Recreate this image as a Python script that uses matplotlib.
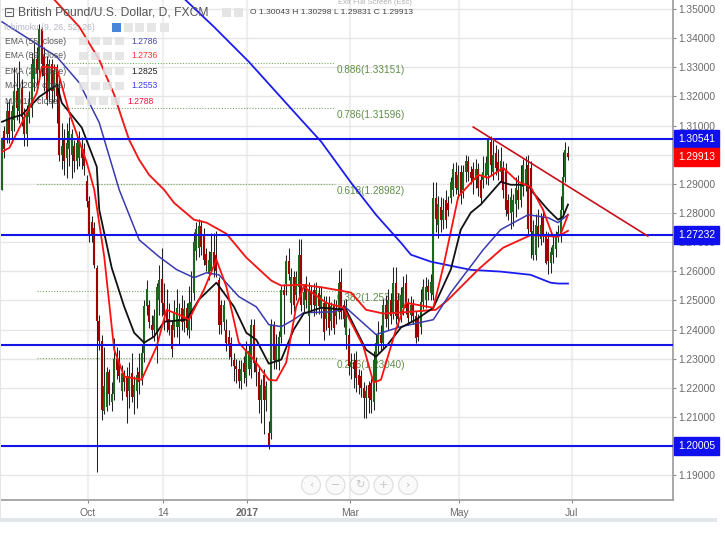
import matplotlib
matplotlib.use("Agg")
import matplotlib.pyplot as plt
from matplotlib.patches import Rectangle, Circle

# candles, one per trading day
opens = [1.288,1.308,1.307,1.315,1.308,1.312,1.322,1.315,1.323,1.313,1.307,1.313,1.316,1.326,1.333,1.329,1.343,1.334,1.331,1.322,
1.331,1.322,1.329,1.323,1.300,1.305,1.299,1.302,1.300,1.303,1.298,1.299,1.303,1.302,1.291,1.284,1.277,1.275,1.261,1.243,
1.236,1.212,1.2135,1.2255,1.215,1.218,1.23,1.229,1.219,1.225,1.224,1.219,1.225,1.217,1.219,1.2255,1.2235,1.232,1.248,1.2485,
1.2415,1.24,1.2385,1.25,1.2575,1.249,1.246,1.2435,1.2415,1.24,1.241,1.241,1.2475,1.2425,1.2475,1.24,1.245,1.2525,1.267,1.268,
1.2755,1.272,1.266,1.259,1.26,1.2665,1.2655,1.257,1.2485,1.2425,1.24,1.2375,1.2355,1.2295,1.2275,1.2265,1.2225,1.2285,1.2235,1.2265,
1.2265,1.2415,1.2285,1.2255,1.216,1.2245,1.216,1.2045,1.2045,1.2415,1.229,1.229,1.2375,1.2535,1.2555,1.2635,1.249,1.258,1.252,1.2545,
1.2655,1.2485,1.2555,1.2445,1.253,1.2535,1.248,1.2525,1.247,1.249,1.2435,1.249,1.243,1.2485,1.2445,1.246,1.2565,1.2485,1.238,1.238,
1.227,1.229,1.2295,1.2245,1.224,1.22,1.2165,1.221,1.2215,1.215,1.222,1.235,1.238,1.2355,1.2485,1.2435,1.25,1.246,1.256,1.25,
1.245,1.2475,1.256,1.249,1.245,1.2485,1.2445,1.2435,1.241,1.2495,1.25,1.255,1.2525,1.252,1.285,1.276,1.282,1.2775,1.2845,1.2835,
1.285,1.288,1.294,1.288,1.294,1.288,1.294,1.298,1.294,1.295,1.2915,1.295,1.2915,1.2915,1.292,1.293,1.3045,1.294,1.3005,1.2975,
1.294,1.2955,1.295,1.2845,1.28,1.2805,1.283,1.288,1.2845,1.289,1.29,1.2965,1.2955,1.2655,1.2655,1.2755,1.271,1.2785,1.2725,1.271,
1.263,1.2655,1.2675,1.272,1.272,1.281,1.2925,1.30043]
highs = [1.306,1.310,1.318,1.319,1.317,1.330,1.328,1.332,1.326,1.316,1.317,1.322,1.335,1.339,1.337,1.345,1.344,1.337,1.334,1.333,
1.333,1.331,1.331,1.326,1.311,1.309,1.311,1.313,1.309,1.305,1.306,1.308,1.306,1.304,1.293,1.286,1.279,1.277,1.262,1.245,
1.238,1.234,1.227,1.2265,1.222,1.237,1.234,1.233,1.228,1.226,1.227,1.229,1.232,1.224,1.227,1.232,1.235,1.25,1.257,1.25,
1.245,1.247,1.256,1.262,1.268,1.256,1.254,1.249,1.243,1.25,1.254,1.249,1.252,1.25,1.249,1.255,1.26,1.2735,1.277,1.278,
1.2775,1.275,1.268,1.267,1.273,1.273,1.274,1.258,1.25,1.25,1.2435,1.24,1.2375,1.232,1.23,1.2295,1.2295,1.231,1.236,1.235,
1.2435,1.2435,1.2305,1.2275,1.223,1.2265,1.2225,1.2085,1.2435,1.243,1.2385,1.2395,1.255,1.2555,1.2655,1.268,1.261,1.26,1.26,1.271,
1.271,1.2555,1.2585,1.2565,1.255,1.256,1.2565,1.2545,1.255,1.2515,1.2515,1.2515,1.2495,1.2505,1.25,1.2605,1.261,1.25,1.2505,1.2405,
1.232,1.232,1.2325,1.2265,1.226,1.222,1.221,1.2225,1.2235,1.2325,1.2385,1.243,1.2415,1.2505,1.252,1.254,1.2525,1.2615,1.2615,1.2525,
1.2545,1.2585,1.259,1.251,1.2515,1.2505,1.2465,1.2455,1.254,1.2575,1.258,1.2575,1.259,1.2905,1.2905,1.286,1.2855,1.285,1.288,1.286,
1.2925,1.297,1.2975,1.2965,1.2965,1.2965,1.3,1.2995,1.296,1.2975,1.2985,1.297,1.2935,1.2995,1.2995,1.3055,1.3065,1.305,1.3035,1.302,
1.3025,1.298,1.297,1.2865,1.2885,1.2865,1.2925,1.293,1.2965,1.2985,1.2995,1.3,1.298,1.2775,1.2795,1.2815,1.28,1.2815,1.274,1.2735,
1.2685,1.272,1.274,1.276,1.286,1.301,1.3045,1.30298]
lows = [1.288,1.299,1.304,1.304,1.304,1.308,1.312,1.311,1.310,1.303,1.303,1.311,1.313,1.322,1.324,1.325,1.327,1.322,1.317,1.318,
1.316,1.318,1.311,1.298,1.295,1.293,1.292,1.296,1.292,1.294,1.295,1.296,1.295,1.293,1.282,1.270,1.270,1.261,1.191,1.233,
1.209,1.211,1.212,1.214,1.212,1.216,1.223,1.222,1.216,1.219,1.208,1.213,1.215,1.211,1.213,1.218,1.221,1.229,1.245,1.2405,
1.2375,1.236,1.2285,1.245,1.2445,1.24,1.239,1.238,1.2305,1.2375,1.2375,1.235,1.24,1.239,1.238,1.237,1.24,1.25,1.264,1.265,
1.2655,1.262,1.26,1.257,1.259,1.258,1.258,1.2385,1.2385,1.24,1.2325,1.23,1.2275,1.2225,1.2215,1.22,1.2195,1.2215,1.2205,1.2245,
1.2235,1.2255,1.2205,1.2115,1.208,1.204,1.212,1.199,1.2025,1.2265,1.2265,1.226,1.2355,1.2385,1.252,1.257,1.2455,1.2465,1.25,1.2515,
1.2465,1.246,1.2475,1.235,1.2465,1.2445,1.2455,1.2455,1.244,1.2365,1.24,1.238,1.24,1.2385,1.242,1.2435,1.2435,1.241,1.2335,1.2245,
1.223,1.22,1.2185,1.218,1.217,1.2095,1.2095,1.2115,1.2115,1.2125,1.219,1.232,1.233,1.2335,1.241,1.24,1.242,1.2435,1.242,1.241,
1.2425,1.245,1.2455,1.2415,1.2425,1.242,1.2355,1.236,1.2385,1.247,1.2475,1.25,1.25,1.25,1.2735,1.2715,1.2735,1.2745,1.275,1.279,
1.2835,1.286,1.2865,1.285,1.283,1.285,1.2905,1.291,1.29,1.2865,1.2885,1.286,1.283,1.2885,1.29,1.2895,1.293,1.2915,1.293,1.2915,
1.291,1.285,1.279,1.2775,1.2745,1.2755,1.2785,1.2815,1.282,1.286,1.2875,1.2725,1.2645,1.264,1.264,1.2685,1.269,1.27,1.2625,1.259,
1.2595,1.263,1.265,1.27,1.27,1.279,1.2905,1.29831]
closes = [1.305,1.302,1.315,1.307,1.315,1.322,1.316,1.323,1.313,1.307,1.314,1.318,1.331,1.333,1.328,1.343,1.331,1.327,1.319,1.331,
1.322,1.329,1.320,1.300,1.303,1.298,1.304,1.308,1.307,1.298,1.304,1.305,1.299,1.296,1.284,1.2725,1.272,1.262,1.243,1.236,
1.2125,1.2205,1.2255,1.218,1.218,1.23,1.226,1.224,1.225,1.222,1.217,1.224,1.217,1.221,1.2245,1.222,1.232,1.248,1.254,1.2425,
1.24,1.2445,1.2545,1.257,1.249,1.245,1.2425,1.24,1.2335,1.246,1.2475,1.2435,1.2425,1.247,1.2405,1.249,1.2495,1.27,1.2745,1.2755,
1.2685,1.264,1.262,1.264,1.2665,1.261,1.26,1.2415,1.2415,1.2485,1.2355,1.2345,1.2305,1.2275,1.2265,1.2225,1.2265,1.2255,1.233,1.2325,
1.2415,1.2285,1.2255,1.216,1.221,1.216,1.2205,1.2005,1.2415,1.2295,1.2345,1.2375,1.2535,1.252,1.2635,1.259,1.258,1.2485,1.258,1.2655,
1.2485,1.2530,1.25,1.2535,1.2485,1.2485,1.2535,1.248,1.252,1.239,1.249,1.2405,1.248,1.2405,1.2475,1.256,1.246,1.2435,1.248,1.2275,
1.229,1.2265,1.2235,1.221,1.22,1.2165,1.219,1.2165,1.216,1.2295,1.2355,1.238,1.2355,1.2485,1.2435,1.25,1.2445,1.256,1.2445,1.2435,
1.252,1.2545,1.2475,1.244,1.2485,1.2445,1.237,1.2375,1.2495,1.2545,1.2545,1.253,1.2565,1.285,1.278,1.283,1.2775,1.281,1.2775,1.281,
1.2905,1.295,1.2885,1.293,1.287,1.294,1.298,1.294,1.292,1.2915,1.295,1.2885,1.285,1.294,1.297,1.305,1.2965,1.3,1.2955,1.294,
1.298,1.288,1.281,1.2795,1.2855,1.2845,1.2885,1.2845,1.29,1.2965,1.295,1.2745,1.2735,1.274,1.276,1.272,1.276,1.2725,1.263,1.2635,
1.2665,1.269,1.272,1.2735,1.281,1.2925,1.3015,1.29913]

# moving averages, read at a few bars each
ma200_bars = [71,85,99,120,128,140,150,160,164,172,180,188,200,212,220,223,227]
ma200_vals = [1.3552,1.3439,1.3319,1.3120,1.3045,1.2904,1.2794,1.2698,1.2657,1.2633,1.2619,1.2605,1.2599,1.2588,1.2561,1.2558,1.2558]
ema89_bars = [21,31,39,45,48,51,55,59,65,69,77,82,90,98,108,112,120,129,140,146,153,164,174,179,191,201,212,223,227]
ema89_vals = [1.3532,1.3439,1.3326,1.3206,1.3127,1.3051,1.2983,1.2931,1.2880,1.2835,1.2777,1.2767,1.2729,1.2647,1.2568,1.2551,1.2554,1.2544,1.2527,1.2468,1.2455,1.2461,1.2468,1.2503,1.2606,1.2681,1.2724,1.2719,1.2739]
ema55_bars = [0,7,22,31,39,47,55,63,70,77,82,87,95,102,107,112,117,121,133,138,150,160,173,180,193,200,211,219,223,227]
ema55_vals = [1.3456,1.3418,1.3336,1.3247,1.3110,1.2880,1.2708,1.2650,1.2606,1.2578,1.2595,1.2588,1.2513,1.2478,1.2417,1.2410,1.2434,1.2458,1.2461,1.2475,1.2383,1.2410,1.2434,1.2527,1.2674,1.2743,1.2794,1.2784,1.2767,1.2794]
ema21_bars = [0,4,8,15,22,24,32,38,39,44,49,53,57,61,65,74,79,86,93,98,102,107,112,117,121,128,138,146,150,154,160,166,173,180,184,188,192,200,204,211,213,219,223,225,227]
ema21_vals = [1.3113,1.3127,1.3137,1.3199,1.3240,1.3178,1.3093,1.2959,1.2811,1.2612,1.2479,1.2389,1.2355,1.2376,1.2427,1.2434,1.2503,1.2561,1.2479,1.2389,1.2365,1.2283,1.2297,1.2400,1.2455,1.2475,1.2468,1.2331,1.2307,1.2341,1.2407,1.2434,1.2475,1.2606,1.2743,1.2801,1.2829,1.2907,1.2897,1.2897,1.2870,1.2811,1.2777,1.2787,1.2829]
ma10_bars = [0,3,8,14,16,22,27,34,37,41,45,49,56,62,66,71,75,81,86,90,95,101,107,110,114,118,121,130,137,145,149,152,158,162,173,177,183,191,195,201,207,212,217,221,224,227]
ma10_vals = [1.3010,1.3024,1.3110,1.3213,1.3302,1.3298,1.3144,1.2973,1.2880,1.2650,1.2331,1.2239,1.2228,1.2341,1.2468,1.2451,1.2434,1.2537,1.2640,1.2547,1.2355,1.2297,1.2228,1.2225,1.2287,1.2479,1.2547,1.2492,1.2475,1.2341,1.2218,1.2228,1.2400,1.2492,1.2475,1.2616,1.2856,1.2931,1.2921,1.2955,1.2907,1.2890,1.2811,1.2719,1.2726,1.2794]

support_levels = [1.30541,1.27232,1.2347,1.20005]
tag_levels = [1.30541,1.29913,1.27232,1.20005]
tag_colors = ["#1010ee","#ff0000","#1010ee","#1010ee"]
trend_bars = [189,259]
trend_vals = [1.3095,1.2721]

fib_names = ["0.886","0.786","0.618","0.382","0.236"]
fib_vals = [1.33151,1.31596,1.28982,1.25319,1.23040]
fib_start = [24.5,24.5,14,14,14]

price_ticks = [1.19,1.20,1.21,1.22,1.23,1.24,1.25,1.26,1.27,1.28,1.29,1.30,1.31,1.32,1.33,1.34,1.35]
date_ticks = [34.5,64.5,98.4,139.6,183.3,228.6]
date_labels = ["Oct","14","2017","Mar","May","Jul"]

legend_rows = ["EMA (55, close)","EMA (89, close)","EMA (21, close)","MA (200, close)","MA (10, close)"]
legend_vals = ["1.2786","1.2736","1.2825","1.2553","1.2788"]
legend_cols = ["#4a4ab0","#ff3030","#222222","#3a3af0","#ff1040"]

plt.rcParams["font.family"] = ["Liberation Sans","DejaVu Sans"]

fig = plt.figure(figsize=(7.25,5.43),dpi=100)
W,H = 725,543
ax = fig.add_axes([1/W,1-500/H,671.7/W,500/H])
ax.set_xlim(-0.4,269)
ax.set_ylim(1.18152,1.35310)

ax.set_yticks(price_ticks)
#1.20 and 1.30 sit fully behind the tags
ax.set_yticklabels(["" if p in (1.20,1.30) else "%.5f"%p for p in price_ticks],fontsize=7.4,color="#6a6a6a")
ax.yaxis.tick_right()
ax.tick_params(axis="y",length=2.5,width=0.8,color="#888888",pad=1.5)
ax.set_xticks(date_ticks)
ax.set_xticklabels(date_labels,fontsize=7.5,color="#6a6a6a")
ax.get_xticklabels()[2].set_fontweight("bold")
ax.tick_params(axis="x",length=2.5,width=0.8,color="#888888",pad=3.5)
ax.grid(axis="y",color="#e6e6e6",lw=1.0,zorder=0)
ax.grid(axis="x",color="#efefef",lw=1.6,zorder=0)
ax.set_axisbelow(True)
for s in ["top","left"]:
    ax.spines[s].set_visible(False)
for s in ["right","bottom"]:
    ax.spines[s].set_color("#9a9a9a")
    ax.spines[s].set_linewidth(1.2)

#fib levels, under the candles
for n,v,st in zip(fib_names,fib_vals,fib_start):
    ax.plot([st,133.5],[v,v],color="#7da860",lw=0.8,ls=(0,(1,1.5)),zorder=1)
    ax.annotate("%s(%.5f)"%(n,v),(134.4,v),xytext=(0,-1.5),textcoords="offset points",
                fontsize=7.2,color="#5d8f45",va="top",zorder=1)

#candles
for i in range(len(opens)):
    up = closes[i] >= opens[i]
    c = "#1c651c" if up else "#a30000"
    ax.plot([i,i],[lows[i],highs[i]],color="#222222",lw=0.75,zorder=2,solid_capstyle="butt")
    ax.plot([i,i],[opens[i],closes[i]],color=c,lw=1.5,zorder=3,solid_capstyle="butt")

ax.plot(ma200_bars,ma200_vals,color="#1c1cf0",lw=1.3,zorder=4)
ax.plot(ema89_bars,ema89_vals,color="#f01818",lw=1.35,zorder=4)
ax.plot(ema55_bars,ema55_vals,color="#3a3ab0",lw=1.1,zorder=4)
ax.plot(ema21_bars,ema21_vals,color="#111111",lw=1.3,zorder=5)
ax.plot(ma10_bars,ma10_vals,color="#ff1010",lw=1.3,zorder=5)

for lv in support_levels:
    ax.axhline(lv,color="#1414e6",lw=1.5,zorder=6)
ax.plot(trend_bars,trend_vals,color="#c8101c",lw=1.2,zorder=6)

#price tags on the axis
tr = ax.get_yaxis_transform()
for v,col in zip(tag_levels,tag_colors):
    ax.text(1.0083,v,"%.5f"%v,transform=tr,fontsize=7.4,color="white",va="center",ha="left",
            bbox=dict(facecolor=col,edgecolor=col,boxstyle="square,pad=0.38"),zorder=10,clip_on=False)

#everything else sits in an overlay in pixel coordinates
ov = fig.add_axes([0,0,1,1],zorder=20)
ov.set_xlim(0,W)
ov.set_ylim(H,0)
ov.axis("off")
ov.add_patch(Rectangle((0,518),717,3.5,fc="#e3e6e9",ec="none"))
ov.add_patch(Rectangle((0,0),1.3,521,fc="#e3e6e9",ec="none"))

ov.add_patch(Rectangle((5.5,8),8,8,fc="none",ec="#666666",lw=0.8))
ov.plot([7.5,11.5],[12,12],color="#666666",lw=0.8)
ov.text(18,12.5,"British Pound/U.S. Dollar, D, FXCM",fontsize=8.7,color="#555555",va="center")
ov.add_patch(Rectangle((222,8),9,8.5,fc="#e4e4e4",ec="none"))
ov.add_patch(Rectangle((234,8),9,8.5,fc="#e4e4e4",ec="none"))
ov.text(250,12.5,"O 1.30043 H 1.30298 L 1.29831 C 1.29913",fontsize=6.1,color="#444444",va="center")
ov.text(375,3,"Exit Full Screen (Esc)",fontsize=5.5,color="#b0b0b0",va="center",ha="center")

ov.text(4,27,"Ichimoku (9, 26, 52, 26)",fontsize=6.2,color="#b5b5c5",va="center")
ov.add_patch(Rectangle((112,23),9,8.5,fc="#4a86d8",ec="none"))
for bx in [124,135,147,160]:
    ov.add_patch(Rectangle((bx,23),9,8.5,fc="#e6e6e6",ec="none"))
for k,(t,v,col) in enumerate(zip(legend_rows,legend_vals,legend_cols)):
    y = 41+k*15
    ov.text(5,y,t,fontsize=6.2,color="#555555",va="center")
    shift = 4 if k==4 else 0
    for bx in [79,91,103,115]:
        ov.add_patch(Rectangle((bx-shift,y-4.5),9,8.5,fc="#e2e2e2",ec="none",alpha=0.85))
    ov.text(131-shift,y,v,fontsize=6.2,color=col,va="center")

#chart navigation buttons
for cx,s in zip([311,335.5,359.5,383.5,408],["‹","−","↻","+","›"]):
    ov.add_patch(Circle((cx,485),9.5,fc="#fafafa",ec="#e0e0e0",lw=0.9))
    ov.text(cx,485,s,fontsize=8,color="#c4c4c4",ha="center",va="center",family=["DejaVu Sans"])

fig.savefig("out.png",dpi=100)
